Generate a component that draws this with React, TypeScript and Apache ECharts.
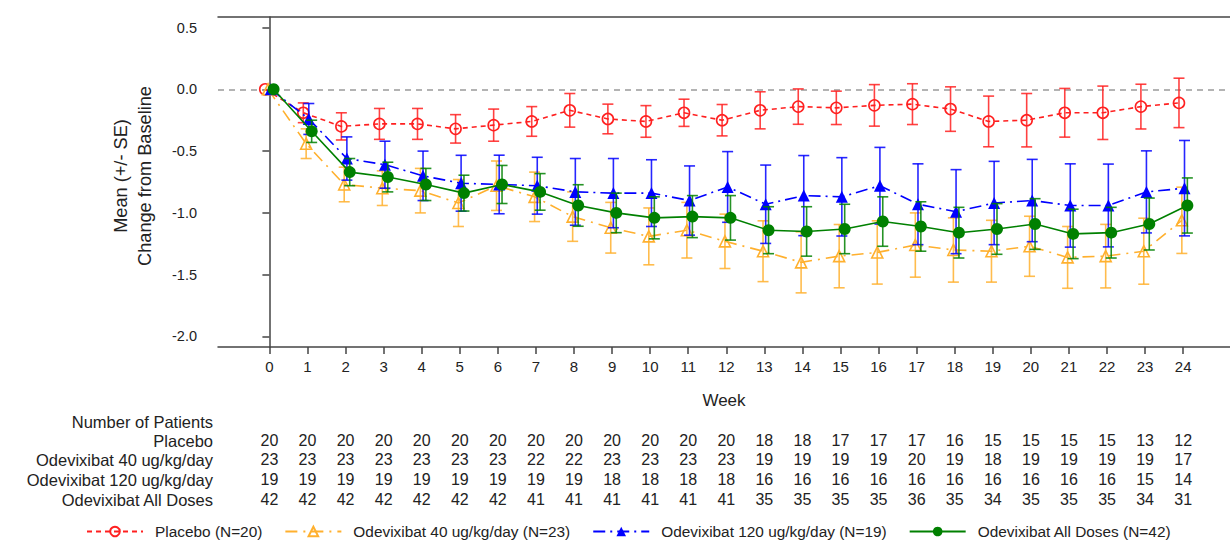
import React, { useEffect, useRef } from "react";
import * as echarts from "echarts";

const weeks = [0, 1, 2, 3, 4, 5, 6, 7, 8, 9, 10, 11, 12, 13, 14, 15, 16, 17, 18, 19, 20, 21, 22, 23, 24];
const yTicks = [-2.0, -1.5, -1.0, -0.5, 0.0, 0.5];

const seriesNames = [
  "Placebo (N=20)",
  "Odevixibat 40 ug/kg/day (N=23)",
  "Odevixibat 120 ug/kg/day (N=19)",
  "Odevixibat All Doses (N=42)",
];
const rowLabels = ["Placebo", "Odevixibat 40 ug/kg/day", "Odevixibat 120 ug/kg/day", "Odevixibat All Doses"];

const placeboMean = [0, -0.19, -0.30, -0.28, -0.28, -0.32, -0.29, -0.26, -0.17, -0.24, -0.26, -0.19, -0.25, -0.17, -0.14, -0.15, -0.13, -0.12, -0.16, -0.26, -0.25, -0.19, -0.19, -0.14, -0.11];
const placeboSE = [0, 0.08, 0.11, 0.125, 0.125, 0.115, 0.13, 0.12, 0.136, 0.12, 0.128, 0.11, 0.127, 0.15, 0.143, 0.135, 0.168, 0.165, 0.18, 0.205, 0.216, 0.197, 0.216, 0.181, 0.2];

const dose40Mean = [0, -0.44, -0.77, -0.80, -0.82, -0.92, -0.78, -0.87, -1.03, -1.12, -1.19, -1.14, -1.23, -1.31, -1.40, -1.35, -1.32, -1.26, -1.30, -1.31, -1.27, -1.36, -1.35, -1.31, -1.06];
const dose40SE = [0, 0.12, 0.14, 0.14, 0.18, 0.19, 0.2, 0.2, 0.2, 0.205, 0.23, 0.225, 0.22, 0.246, 0.247, 0.256, 0.256, 0.26, 0.26, 0.25, 0.243, 0.25, 0.257, 0.267, 0.268];

const dose120Mean = [0, -0.24, -0.56, -0.61, -0.70, -0.76, -0.77, -0.78, -0.83, -0.84, -0.84, -0.90, -0.79, -0.93, -0.86, -0.87, -0.78, -0.93, -0.99, -0.92, -0.90, -0.94, -0.94, -0.83, -0.80];
const dose120SE = [0, 0.125, 0.175, 0.19, 0.2, 0.226, 0.237, 0.23, 0.27, 0.28, 0.27, 0.28, 0.286, 0.317, 0.324, 0.317, 0.31, 0.327, 0.34, 0.337, 0.333, 0.337, 0.335, 0.332, 0.386];

const allMean = [0, -0.34, -0.67, -0.71, -0.77, -0.84, -0.77, -0.83, -0.94, -1.00, -1.04, -1.03, -1.04, -1.14, -1.15, -1.13, -1.07, -1.11, -1.16, -1.13, -1.09, -1.17, -1.16, -1.09, -0.94];
const allSE = [0, 0.09, 0.11, 0.12, 0.13, 0.145, 0.154, 0.148, 0.168, 0.16, 0.17, 0.17, 0.18, 0.19, 0.2, 0.2, 0.2, 0.2, 0.205, 0.205, 0.205, 0.2, 0.205, 0.21, 0.223];

const placeboN = [20, 20, 20, 20, 20, 20, 20, 20, 20, 20, 20, 20, 20, 18, 18, 17, 17, 17, 16, 15, 15, 15, 15, 13, 12];
const dose40N = [23, 23, 23, 23, 23, 23, 23, 22, 22, 23, 23, 23, 23, 19, 19, 19, 19, 20, 19, 18, 19, 19, 19, 19, 17];
const dose120N = [19, 19, 19, 19, 19, 19, 19, 19, 19, 18, 18, 18, 18, 16, 16, 16, 16, 16, 16, 16, 16, 16, 16, 15, 14];
const allN = [42, 42, 42, 42, 42, 42, 42, 41, 41, 41, 41, 41, 41, 35, 35, 35, 35, 36, 35, 34, 35, 35, 35, 34, 31];

const FONT = "'Liberation Sans', Arial, sans-serif";
const X_MIN = -1.35;
const X_MAX = 25.23;
const GRID_LEFT = 218;
const GRID_TOP = 17;
const GRID_H = 330;

const groups = [
  { mean: placeboMean, se: placeboSE, n: placeboN, off: -0.11, color: "#FF2020", dash: [5, 4] as any, symbol: "circle", hollow: true, size: 11 },
  { mean: dose40Mean, se: dose40SE, n: dose40N, off: -0.035, color: "#FFB02E", dash: [12, 6, 2, 6] as any, symbol: "triangle", hollow: true, size: 11 },
  { mean: dose120Mean, se: dose120SE, n: dose120N, off: 0.035, color: "#0000FF", dash: [12, 5, 2, 5] as any, symbol: "triangle", hollow: false, size: 12 },
  { mean: allMean, se: allSE, n: allN, off: 0.11, color: "#008000", dash: "solid" as any, symbol: "circle", hollow: false, size: 12 },
];

export default function App() {
  const ref = useRef<HTMLDivElement>(null);
  useEffect(() => {
    if (!ref.current) return;
    const chart = echarts.init(ref.current, null, { renderer: "svg" });

    const axisColor = "#444";
    const tableOffsets = [85, 104, 124, 144];
    const xAxes: any[] = [
      {
        type: "value",
        gridIndex: 0,
        min: X_MIN,
        max: X_MAX,
        position: "bottom",
        axisLine: { show: true, onZero: false, lineStyle: { color: axisColor, width: 1.5 } },
        axisTick: { show: true, customValues: weeks, length: 7, lineStyle: { color: axisColor, width: 1.5 } },
        axisLabel: { show: true, customValues: weeks, fontSize: 15, color: "#222", fontFamily: FONT, margin: 12 },
        splitLine: { show: false },
        name: "Week",
        nameLocation: "middle",
        nameGap: 45,
        nameTextStyle: { fontSize: 17, color: "#222", fontFamily: FONT },
      },
      {
        type: "value",
        gridIndex: 0,
        min: X_MIN,
        max: X_MAX,
        position: "top",
        axisLine: { show: true, onZero: false, lineStyle: { color: axisColor, width: 1.5 } },
        axisTick: { show: false },
        axisLabel: { show: false },
        splitLine: { show: false },
      },
    ];
    groups.forEach((g, i) => {
      xAxes.push({
        type: "value",
        gridIndex: 0,
        min: X_MIN,
        max: X_MAX,
        position: "bottom",
        offset: tableOffsets[i],
        axisLine: { show: false },
        axisTick: { show: false },
        splitLine: { show: false },
        axisLabel: {
          show: true,
          customValues: weeks,
          margin: 0,
          fontSize: 16,
          color: "#222",
          fontFamily: FONT,
          formatter: (v: number) => String(g.n[Math.round(v)]),
        },
      });
    });

    const series: any[] = [];
    groups.forEach((g, i) => {
      const errData = weeks
        .map((w, k) => [w + g.off, g.mean[k] - g.se[k], g.mean[k] + g.se[k]])
        .filter((d, k) => g.se[k] > 0);
      series.push({
        type: "custom",
        name: seriesNames[i] + " SE",
        xAxisIndex: 0,
        yAxisIndex: 0,
        data: errData,
        encode: { x: 0, y: [1, 2] },
        z: 2 + i * 2,
        silent: true,
        renderItem: (params: any, api: any) => {
          const x = api.value(0);
          const top = api.coord([x, api.value(2)]);
          const bot = api.coord([x, api.value(1)]);
          const w = 5.5;
          const style = { stroke: g.color, lineWidth: 1.6, opacity: 0.85 };
          return {
            type: "group",
            children: [
              { type: "line", shape: { x1: top[0], y1: top[1], x2: bot[0], y2: bot[1] }, style },
              { type: "line", shape: { x1: top[0] - w, y1: top[1], x2: top[0] + w, y2: top[1] }, style },
              { type: "line", shape: { x1: bot[0] - w, y1: bot[1], x2: bot[0] + w, y2: bot[1] }, style },
            ],
          };
        },
      });
      const lineSeries: any = {
        type: "line",
        name: seriesNames[i],
        xAxisIndex: 0,
        yAxisIndex: 0,
        data: weeks.map((w, k) => [w + g.off, g.mean[k]]),
        symbol: g.symbol,
        symbolSize: g.size,
        showSymbol: true,
        z: 3 + i * 2,
        lineStyle: { color: g.color, width: 1.6, type: g.dash },
        itemStyle: g.hollow
          ? { color: "rgba(255,255,255,0)", borderColor: g.color, borderWidth: 1.6 }
          : { color: g.color, borderColor: g.color, borderWidth: 0 },
        emphasis: { disabled: true },
      };
      if (i === 0) {
        lineSeries.markLine = {
          silent: true,
          symbol: ["none", "none"],
          label: { show: false },
          lineStyle: { color: "#9a9a9a", type: [6, 5], width: 1.5 },
          data: [{ yAxis: 0 }],
          z: 1,
        };
      }
      series.push(lineSeries);
    });

    const textStyle = { fontSize: 16.5, fill: "#222", fontFamily: FONT };
    const graphics: any[] = [
      { type: "text", right: 1230 - 213, top: 413, style: { ...textStyle, text: "Number of Patients", textAlign: "right" } },
    ];
    const rowY = [432, 451, 471, 491];
    rowLabels.forEach((t, i) => {
      graphics.push({ type: "text", right: 1230 - 213, top: rowY[i], style: { ...textStyle, text: t, textAlign: "right" } });
    });

    chart.setOption({
      animation: false,
      backgroundColor: "#ffffff",
      textStyle: { fontFamily: FONT },
      grid: {
        left: GRID_LEFT,
        top: GRID_TOP,
        right: 0,
        height: GRID_H,
        show: false,
        containLabel: false,
      },
      xAxis: xAxes,
      yAxis: {
        type: "value",
        min: -2.085,
        max: 0.585,
        axisLine: { show: true, lineStyle: { color: axisColor, width: 1.5 } },
        axisTick: { show: true, customValues: yTicks, length: 7, lineStyle: { color: axisColor, width: 1.5 } },
        axisLabel: {
          show: true,
          customValues: yTicks,
          fontSize: 14.5,
          color: "#222",
          fontFamily: FONT,
          margin: 21,
          formatter: (v: number) => v.toFixed(1),
        },
        splitLine: { show: false },
        name: "Mean (+/- SE)\nChange from Baseline",
        nameLocation: "middle",
        nameRotate: 90,
        nameGap: 61,
        nameTextStyle: { fontSize: 18.2, color: "#222", fontFamily: FONT, lineHeight: 24, padding: [0, 0, 0, 12] },
      },
      legend: {
        data: seriesNames,
        left: 81,
        top: 519,
        itemWidth: 56,
        itemHeight: 12,
        itemGap: 22,
        textStyle: { fontSize: 15.4, color: "#222", fontFamily: FONT, padding: [0, 0, 0, 7] },
        selectedMode: false,
      },
      graphic: graphics,
      series,
    });
    return () => chart.dispose();
  }, []);
  return (
    <div
      ref={ref}
      style={{ position: "absolute", left: 0, top: 0, width: 1230, height: 550 }}
    />
  );
}
